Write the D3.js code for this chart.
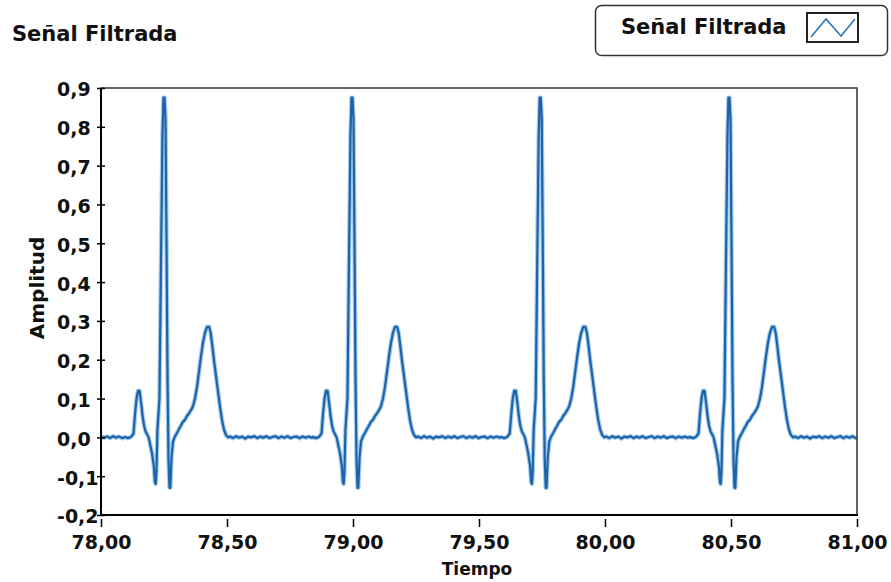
<!DOCTYPE html>
<html>
<head>
<meta charset="utf-8">
<script src="https://cdn.jsdelivr.net/npm/d3@7"></script>
<style>
  body { margin: 0; background: #fff; }
  svg text { font-family: "DejaVu Sans", Verdana, sans-serif; font-weight: bold; fill: #111; }
</style>
</head>
<body>
<script>
// tiempos de los picos R (s)
const picosR = [78.254, 79.000, 79.747, 80.496];

// forma de un latido, desplazamiento respecto al pico R (ms) y amplitud
const latidoMs = [-159, -147, -135, -125, -119, -113, -107, -101, -95, -89, -83, -77, -71, -65, -60,
  -52, -44, -40, -37, -34, -30, -26, -22, -16, -10, -6, -2, 2, 6, 10, 14, 18, 21, 26, 32,
  40, 48, 56, 63, 71, 79, 87, 95, 103, 111, 119, 127, 135, 143, 151, 159, 167, 175, 181,
  187, 194, 202, 210, 218, 226, 234, 242, 250,
  258, 270, 282, 294, 306, 318, 330, 342, 354, 366, 378, 390, 402, 414, 426, 438, 450,
  462, 474, 486, 498, 510, 522, 534, 546, 558, 570, 582];
const latidoAmp = [0.001, -0.002, 0.001, 0.01, 0.06, 0.10, 0.12, 0.12, 0.09, 0.055, 0.03, 0.015, 0.008, 0.0, -0.015,
  -0.04, -0.075, -0.115, -0.12, -0.09, 0.02, 0.06, 0.10, 0.45, 0.78, 0.875, 0.875, 0.82, 0.5, 0.15, -0.06, -0.13, -0.13, -0.05, -0.01,
  0.003, 0.012, 0.022, 0.03, 0.04, 0.045, 0.055, 0.062, 0.07, 0.08, 0.10, 0.13, 0.17, 0.21, 0.245, 0.27, 0.285, 0.285, 0.27,
  0.24, 0.20, 0.16, 0.12, 0.08, 0.045, 0.02, 0.006, 0.0,
  0.002, -0.002, 0.003, -0.001, 0.002, -0.003, 0.002, 0.0, 0.003, -0.002, 0.002, -0.001, 0.003, -0.002, 0.001, 0.003, -0.002,
  0.002, -0.001, 0.003, -0.002, 0.001, 0.002, -0.002, 0.002, -0.001, 0.002, -0.001];

// linea base antes del primer latido
const inicioT = [78.000, 78.012, 78.024, 78.036, 78.048, 78.060, 78.072, 78.084];
const inicioAmp = [0.002, -0.001, 0.002, -0.002, 0.003, -0.001, 0.002, -0.002];

const yTicks = [-0.2, -0.1, 0.0, 0.1, 0.2, 0.3, 0.4, 0.5, 0.6, 0.7, 0.8, 0.9];
const xTicks = [78.0, 78.5, 79.0, 79.5, 80.0, 80.5, 81.0];

const titulo = 'Señal Filtrada';
const ejeX = 'Tiempo';
const ejeY = 'Amplitud';

let width = 891,
    height = 582;

let datos = inicioT.map((t, i) => [t, inicioAmp[i]]);
picosR.forEach(r => {
    latidoMs.forEach((ms, i) => datos.push([r + ms / 1000, latidoAmp[i]]));
});

const loc = d3.formatLocale({decimal: ',', thousands: '.', grouping: [3], currency: ['', ''], minus: '-'});

let x = d3.scaleLinear().domain([78, 81]).range([101, 857]);
let y = d3.scaleLinear().domain([-0.2, 0.9]).range([515, 88]);

let svg = d3.select('body').append('svg')
    .attr('width', width)
    .attr('height', height);

// titulo
svg.append('text')
    .attr('x', 12).attr('y', 41)
    .style('font-size', '21px')
    .text(titulo);

// leyenda
svg.append('rect')
    .attr('x', 595.5).attr('y', 5.5)
    .attr('width', 292).attr('height', 50)
    .attr('rx', 6)
    .style('fill', '#fff').style('stroke', '#333').style('stroke-width', 1.5);
svg.append('text')
    .attr('x', 621).attr('y', 34)
    .style('font-size', '21px')
    .text(titulo);
svg.append('rect')
    .attr('x', 807).attr('y', 13)
    .attr('width', 51).attr('height', 29)
    .style('fill', '#fff').style('stroke', '#222').style('stroke-width', 2);
svg.append('polyline')
    .attr('points', '811,37 826,19 841,36 855,19')
    .style('fill', 'none').style('stroke', '#2a74b8').style('stroke-width', 1.5);

// linea de la senal
svg.append('clipPath').attr('id', 'clip')
    .append('rect').attr('x', 101).attr('y', 88).attr('width', 756).attr('height', 427);

let line = d3.line().x(d => x(d[0])).y(d => y(d[1]));
let g = svg.append('g').attr('clip-path', 'url(#clip)');
g.append('path')
    .datum(datos)
    .attr('d', line)
    .style('fill', 'none').style('stroke', '#a9cbea').style('stroke-width', 4.5)
    .style('stroke-linejoin', 'round');
g.append('path')
    .datum(datos)
    .attr('d', line)
    .style('fill', 'none').style('stroke', '#1b64ab').style('stroke-width', 2.2)
    .style('stroke-linejoin', 'round');

// marco
svg.append('rect')
    .attr('x', 101).attr('y', 88).attr('width', 756).attr('height', 427)
    .style('fill', 'none').style('stroke', '#333').style('stroke-width', 1.5);

// eje Y
let yAxis = svg.append('g')
    .attr('transform', 'translate(101,0)')
    .call(d3.axisLeft(y).tickValues(yTicks).tickFormat(loc.format('.1f')).tickSize(4));
yAxis.select('.domain').style('stroke', '#000').style('stroke-width', 2).attr('d', 'M0,88V515');
yAxis.selectAll('.tick line').attr('x1', -4).attr('x2', 4).style('stroke', '#000').style('stroke-width', 1.5);
yAxis.selectAll('.tick text')
    .attr('x', -44).attr('dy', '0.42em')
    .style('text-anchor', 'start')
    .style('font-size', '19px');

// eje X
svg.append('line')
    .attr('x1', 100).attr('x2', 858).attr('y1', 515).attr('y2', 515)
    .style('stroke', '#000').style('stroke-width', 2);
let xAxis = svg.append('g')
    .attr('transform', 'translate(0,519)')
    .call(d3.axisBottom(x).tickValues(xTicks).tickFormat(loc.format('.2f')).tickSize(8));
xAxis.select('.domain').remove();
xAxis.selectAll('.tick line').style('stroke', '#000').style('stroke-width', 1.5);
xAxis.selectAll('.tick text')
    .attr('y', 17)
    .style('font-size', '19px');

// titulos de ejes
svg.append('text')
    .attr('x', 477).attr('y', 575)
    .style('text-anchor', 'middle')
    .style('font-size', '17px')
    .text(ejeX);
svg.append('text')
    .attr('transform', 'translate(44,288) rotate(-90)')
    .style('text-anchor', 'middle')
    .style('font-size', '20px')
    .text(ejeY);

svg.selectAll('.tick text').style('fill', '#111').style('font-family', '"DejaVu Sans", Verdana, sans-serif');
</script>
</body>
</html>
